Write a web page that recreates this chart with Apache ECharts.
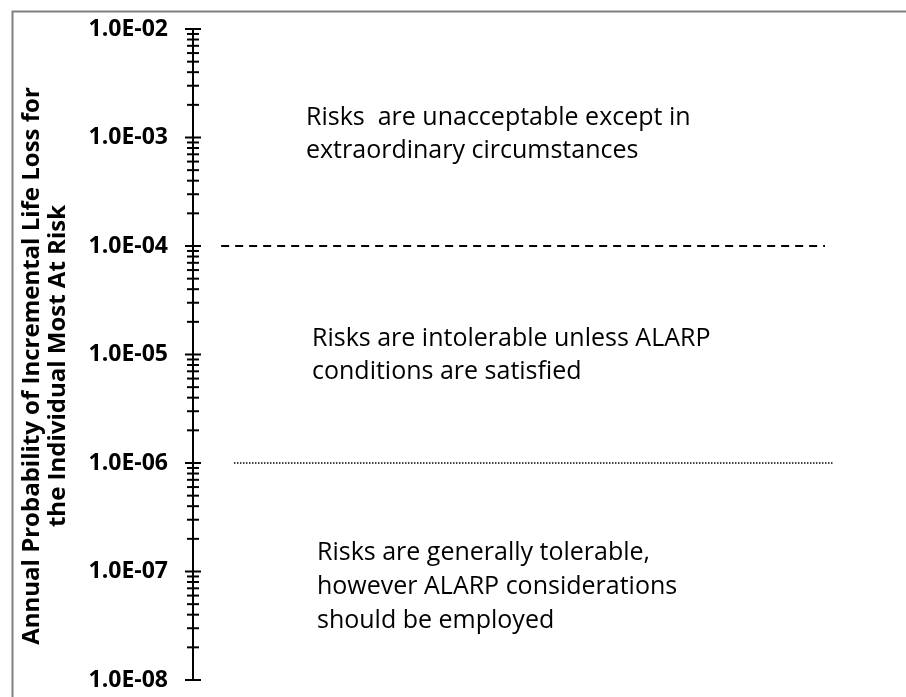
<!DOCTYPE html>
<html>
<head>
<meta charset="utf-8">
<script src="https://cdn.jsdelivr.net/npm/echarts@6/dist/echarts.min.js"></script>
<style>
html,body{margin:0;padding:0;background:#fff;}
#chart{width:906px;height:697px;}
</style>
</head>
<body>
<div id="chart"></div>
<script>
// ---- data ----
var decades = [1e-8, 1e-7, 1e-6, 1e-5, 1e-4, 1e-3, 1e-2];
var tickLabels = ['1.0E-08', '1.0E-07', '1.0E-06', '1.0E-05', '1.0E-04', '1.0E-03', '1.0E-02'];
var thresholdUpper = 1e-4;   // dashed line
var thresholdLower = 1e-6;   // dotted line
var zoneTexts = [
  'Risks  are unacceptable except in\nextraordinary circumstances',
  'Risks are intolerable unless ALARP\nconditions are satisfied',
  'Risks are generally tolerable,\nhowever ALARP considerations\nshould be employed'
];
var axisTitle = 'Annual Probability of Incremental Life Loss for\nthe Individual Most At Risk';

// tick marks: majors at decades, minors at 2..9 x decade
var majorTicks = decades.map(function (d) { return [0, d]; });
var minorTicks = [];
for (var i = 0; i < decades.length - 1; i++) {
  for (var k = 2; k <= 9; k++) minorTicks.push([0, k * decades[i]]);
}

function tickRenderer(half) {
  return function (params, api) {
    var p = api.coord([api.value(0), api.value(1)]);
    return {
      type: 'line',
      shape: { x1: p[0] - half, y1: p[1], x2: p[0] + half, y2: p[1] },
      style: { stroke: '#000', lineWidth: 2 }
    };
  };
}

var chart = echarts.init(document.getElementById('chart'), null, { renderer: 'canvas' });
var font = 'Open Sans';
function zoneText(x, y, txt, lh) {
  return { type: 'text', x: x, y: y, silent: true,
    style: { text: txt, fontFamily: font, fontSize: 25, fill: '#000', lineHeight: lh } };
}
chart.setOption({
  backgroundColor: '#fff',
  animation: false,
  grid: { left: 193, right: 73, top: 29, bottom: 17 },
  xAxis: { type: 'value', min: 0, max: 1, show: false },
  yAxis: {
    type: 'log', logBase: 10, min: 1e-8, max: 1e-2, interval: 1,
    axisLine: { show: true, lineStyle: { color: '#000', width: 2 } },
    axisTick: { show: false },
    splitLine: { show: false },
    axisLabel: {
      margin: 25,
      fontFamily: font, fontWeight: 'bold', fontSize: 23, color: '#000',
      formatter: function (v) {
        var idx = Math.round(Math.log10(v)) + 8;
        return tickLabels[idx] || '';
      }
    }
  },
  series: [
    { type: 'custom', data: majorTicks, renderItem: tickRenderer(8), clip: false, silent: true },
    { type: 'custom', data: minorTicks, renderItem: tickRenderer(6), clip: false, silent: true },
    {
      type: 'line', symbol: 'none', silent: true,
      data: [[0.044, thresholdUpper], [0.9875, thresholdUpper]],
      lineStyle: { color: '#000', width: 2, type: [8, 6] }
    },
    {
      type: 'line', symbol: 'none', silent: true,
      data: [[0.064, thresholdLower], [1.0, thresholdLower]],
      lineStyle: { color: '#000', width: 1.5, type: [1.5, 1.5] }
    }
  ],
  graphic: [
    { type: 'rect', left: 10, top: 9, shape: { width: 1000, height: 800 },
      style: { fill: 'none', stroke: '#808080', lineWidth: 2 }, silent: true, z: 100 },
    zoneText(306, 101, zoneTexts[0], 33),
    zoneText(312, 322, zoneTexts[1], 33),
    zoneText(317, 536, zoneTexts[2], 34),
    { type: 'text', x: 45, y: 366, rotation: Math.PI / 2, silent: true,
      style: { text: axisTitle, fontFamily: font, fontWeight: 'bold', fontSize: 24, fill: '#000',
               align: 'center', verticalAlign: 'middle', lineHeight: 26 } }
  ]
});
</script>
</body>
</html>
